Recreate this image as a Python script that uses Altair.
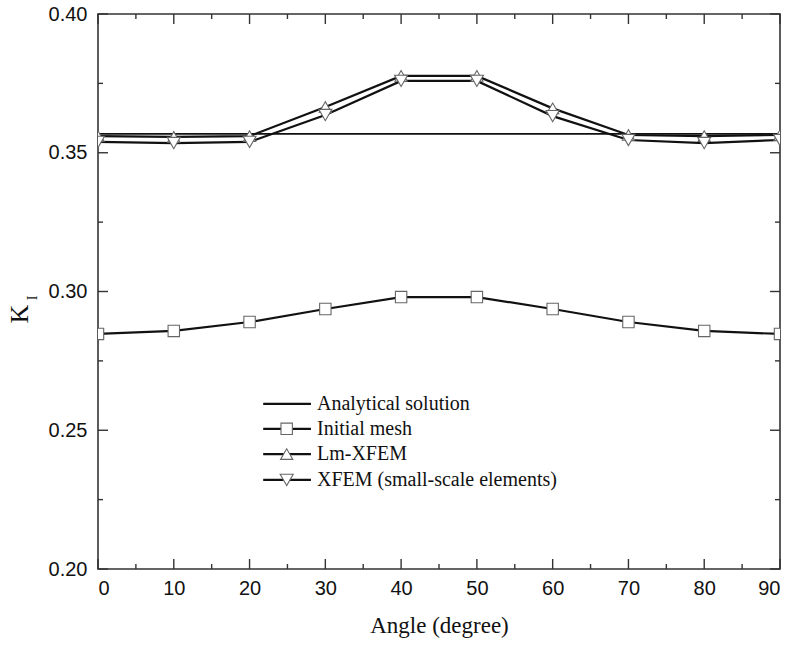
import altair as alt
import pandas as pd

# ---- data ----
angles = [0, 10, 20, 30, 40, 50, 60, 70, 80, 90]
analytical = 0.3568
initial_mesh = [0.2847, 0.2858, 0.2890, 0.2937, 0.2980, 0.2980, 0.2937, 0.2890, 0.2858, 0.2847]
lm_xfem = [0.3560, 0.3557, 0.3560, 0.3665, 0.3777, 0.3777, 0.3660, 0.3564, 0.3560, 0.3564]
xfem_small = [0.3539, 0.3535, 0.3539, 0.3636, 0.3759, 0.3759, 0.3632, 0.3546, 0.3535, 0.3546]

series_names = ["Analytical solution", "Initial mesh", "Lm-XFEM", "XFEM (small-scale elements)"]
x_major = [0, 10, 20, 30, 40, 50, 60, 70, 80, 90]
x_minor = [5, 15, 25, 35, 45, 55, 65, 75, 85]
y_major = [0.20, 0.25, 0.30, 0.35, 0.40]
y_minor = [0.225, 0.275, 0.325, 0.375]

# ---- layout constants ----
W, H = 682, 555
FRAME = "#333333"
MAJ, MIN = 10, 5

rows = []
for name, vals in [("Initial mesh", initial_mesh), ("Lm-XFEM", lm_xfem),
                   ("XFEM (small-scale elements)", xfem_small)]:
    for a, v in zip(angles, vals):
        rows.append({"series": name, "angle": a, "K": v})
df = pd.DataFrame(rows)
df_an = pd.DataFrame({"angle": [angles[0], angles[-1]], "K": [analytical, analytical]})

xs = alt.Scale(domain=[0, 90], nice=False, zero=False)
ys = alt.Scale(domain=[0.20, 0.40], nice=False, zero=False)
shape_scale = alt.Scale(domain=series_names[1:], range=["square", "triangle-up", "triangle-down"])
size_scale = alt.Scale(domain=series_names[1:], range=[130, 170, 170])

X = alt.X("angle:Q", scale=xs,
          axis=alt.Axis(values=x_major, format="d", ticks=False, domain=False, grid=False,
                        labelFont="Liberation Sans", labelFontSize=20, labelColor="#111",
                        labelPadding=9, title="Angle (degree)", titleFont="Liberation Serif",
                        titleFontSize=23, titleFontWeight="normal", titleColor="#111",
                        titlePadding=16))
Y = alt.Y("K:Q", scale=ys,
          axis=alt.Axis(values=y_major, format=".2f", ticks=False, domain=False, grid=False,
                        labelFont="Liberation Sans", labelFontSize=20, labelColor="#111",
                        labelPadding=11, title=None))

base = alt.Chart(df)

an_line = alt.Chart(df_an).mark_line(color="#111", strokeWidth=1.6).encode(x=X, y=Y)

lines = base.mark_line(color="#111", strokeWidth=2.2).encode(
    x=X, y=Y, detail="series:N")

points = base.mark_point(filled=True, fill="white", stroke="#666", strokeWidth=1.1, opacity=1,
                         clip=True).encode(
    x=X, y=Y,
    shape=alt.Shape("series:N", scale=shape_scale, legend=None),
    size=alt.Size("series:N", scale=size_scale, legend=None))

# ---- inward ticks on all four sides ----
dxM = pd.DataFrame({"v": x_major})
dxm = pd.DataFrame({"v": x_minor})
dyM = pd.DataFrame({"v": y_major})
dym = pd.DataFrame({"v": y_minor})
tick_kw = dict(color=FRAME, strokeWidth=1.4)
xv = alt.X("v:Q", scale=xs)
yv = alt.Y("v:Q", scale=ys)
ticks = [
    alt.Chart(dxM).mark_rule(**tick_kw).encode(x=xv, y=alt.value(H), y2=alt.value(H - MAJ)),
    alt.Chart(dxM).mark_rule(**tick_kw).encode(x=xv, y=alt.value(0), y2=alt.value(MAJ)),
    alt.Chart(dxm).mark_rule(**tick_kw).encode(x=xv, y=alt.value(H), y2=alt.value(H - MIN)),
    alt.Chart(dxm).mark_rule(**tick_kw).encode(x=xv, y=alt.value(0), y2=alt.value(MIN)),
    alt.Chart(dyM).mark_rule(**tick_kw).encode(y=yv, x=alt.value(0), x2=alt.value(MAJ)),
    alt.Chart(dyM).mark_rule(**tick_kw).encode(y=yv, x=alt.value(W), x2=alt.value(W - MAJ)),
    alt.Chart(dym).mark_rule(**tick_kw).encode(y=yv, x=alt.value(0), x2=alt.value(MIN)),
    alt.Chart(dym).mark_rule(**tick_kw).encode(y=yv, x=alt.value(W), x2=alt.value(W - MIN)),
]

# ---- custom legend (placed in data units inside the plot) ----
leg_y = [0.2595, 0.2505, 0.2414, 0.2321]
leg = pd.DataFrame({"series": series_names, "ly": leg_y,
                    "x0": [21.8] * 4, "x1": [28.1] * 4, "xm": [24.9] * 4, "xt": [28.9] * 4})
leg_lines = alt.Chart(leg).mark_rule(color="#111", strokeWidth=2.2).encode(
    x=alt.X("x0:Q", scale=xs), x2="x1:Q", y=alt.Y("ly:Q", scale=ys))
leg_pts = alt.Chart(leg).transform_filter("datum.series != 'Analytical solution'").mark_point(
    filled=True, fill="white", stroke="#666", strokeWidth=1.1, opacity=1).encode(
    x=alt.X("xm:Q", scale=xs), y=alt.Y("ly:Q", scale=ys),
    shape=alt.Shape("series:N", scale=shape_scale, legend=None),
    size=alt.Size("series:N", scale=size_scale, legend=None))
leg_text = alt.Chart(leg).mark_text(align="left", baseline="middle", font="Liberation Serif",
                                    fontSize=20, color="#111").encode(
    x=alt.X("xt:Q", scale=xs), y=alt.Y("ly:Q", scale=ys), text="series:N")

# ---- y title K with subscript I ----
ktitle = alt.Chart(pd.DataFrame({"t": ["K"]})).mark_text(
    font="Liberation Serif", fontSize=26, angle=270, align="center", baseline="middle",
    color="#111").encode(x=alt.value(-78), y=alt.value(300), text="t:N")
isub = alt.Chart(pd.DataFrame({"t": ["I"]})).mark_text(
    font="Liberation Serif", fontSize=14, angle=270, align="center", baseline="middle",
    color="#111").encode(x=alt.value(-65), y=alt.value(284), text="t:N")

chart = alt.layer(an_line, lines, points, *ticks, leg_lines, leg_pts, leg_text, ktitle, isub).properties(
    width=W, height=H,
    autosize=alt.AutoSizeParams(type="none"),
    padding={"left": 98, "top": 14, "right": 12, "bottom": 77},
    background="white",
).configure_view(stroke=FRAME, strokeWidth=1.6)

chart.save("out.html", embed_options={"renderer": "svg", "actions": False})
